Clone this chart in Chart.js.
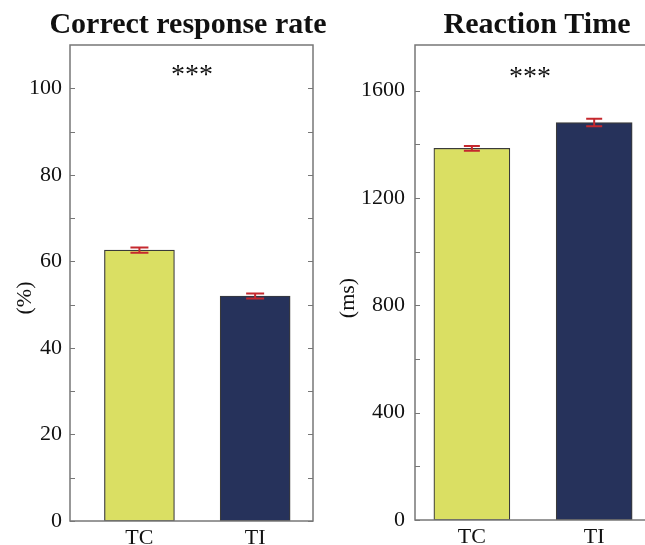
<!DOCTYPE html>
<html>
<head>
<meta charset="utf-8">
<script src="https://cdn.jsdelivr.net/npm/chart.js@4.4.1/dist/chart.umd.min.js"></script>
<style>
html,body{margin:0;padding:0;background:#fff;overflow:hidden;width:645px;height:545px;}
#w1{position:absolute;left:0;top:0;width:335px;height:545px;}
#w2{position:absolute;left:335px;top:0;width:340px;height:545px;}
</style>
</head>
<body>
<div id="w1"><canvas id="c1"></canvas></div>
<div id="w2"><canvas id="c2"></canvas></div>
<script>
// ---- data ----
const categories = ['TC', 'TI'];
const accuracyMean = [62.6, 52.0];
const accuracyErr = [0.6, 0.6];
const rtMean = [1385, 1481];
const rtErr = [9, 14];
const accuracyTickLabels = [0, 20, 40, 60, 80, 100];
const accuracyMinorTicks = [0, 10, 20, 30, 40, 50, 60, 70, 80, 90, 100];
const rtTickLabels = [0, 400, 800, 1200, 1600];
const rtMinorTicks = [0, 200, 400, 600, 800, 1000, 1200, 1400, 1600];
const significance = '***';
const barColors = ['#DADF63', '#26325B'];
const errColor = '#C5282E';
const SERIF = '"Liberation Serif", "Times New Roman", serif';
const TEXT = '#111';

const panelPlugin = {
  id: 'panel',
  afterDatasetsDraw(chart, args, opts) {
    const ctx = chart.ctx, ca = chart.chartArea;
    const xs = chart.scales.x, ys = chart.scales.y;
    // error bars
    ctx.save();
    ctx.strokeStyle = errColor; ctx.lineWidth = 2;
    opts.means.forEach((m, i) => {
      const x = xs.getPixelForValue(i + 1);
      const yt = ys.getPixelForValue(m + opts.errs[i]);
      const yb = ys.getPixelForValue(m - opts.errs[i]);
      const hw = opts.capHalf;
      ctx.beginPath();
      ctx.moveTo(x, yt); ctx.lineTo(x, yb);
      ctx.moveTo(x - hw, yt); ctx.lineTo(x + hw, yt);
      ctx.moveTo(x - hw, yb); ctx.lineTo(x + hw, yb);
      ctx.stroke();
    });
    ctx.restore();
    // box
    ctx.save();
    ctx.strokeStyle = '#777'; ctx.lineWidth = 1.5;
    ctx.strokeRect(ca.left, ca.top, ca.right - ca.left, ca.bottom - ca.top);
    // inward ticks
    ctx.lineWidth = 1;
    ctx.beginPath();
    opts.minor.forEach(v => {
      const y = Math.round(ys.getPixelForValue(v)) + 0.5;
      ctx.moveTo(ca.left, y); ctx.lineTo(ca.left + 5, y);
      ctx.moveTo(ca.right, y); ctx.lineTo(ca.right - 5, y);
    });
    ctx.stroke();
    ctx.restore();
    ctx.save();
    ctx.fillStyle = TEXT;
    // title
    ctx.font = 'bold ' + opts.titleSize + 'px ' + SERIF;
    ctx.textAlign = 'center'; ctx.textBaseline = 'alphabetic';
    ctx.fillText(opts.title, opts.titleX, 33);
    // significance
    ctx.font = '28px ' + SERIF;
    ctx.fillText(significance, opts.sigX, ys.getPixelForValue(opts.sigY));
    // y title
    ctx.translate(opts.yTitleX, opts.yTitleY);
    ctx.rotate(-Math.PI / 2);
    ctx.font = '22px ' + SERIF;
    ctx.textBaseline = 'middle';
    ctx.fillText(opts.yTitle, 0, 0);
    ctx.restore();
  }
};

function makeChart(id, cfg) {
  return new Chart(document.getElementById(id), {
    type: 'bar',
    data: {
      datasets: [{
        data: cfg.means.map((v, i) => ({ x: i + 1, y: v })),
        backgroundColor: barColors,
        borderColor: '#3a3a3a',
        borderWidth: 1.2,
        barThickness: cfg.barW,
        borderSkipped: false
      }]
    },
    options: {
      responsive: true, maintainAspectRatio: false, animation: false,
      layout: { padding: { left: 0, right: cfg.padRight, top: 45, bottom: 0 } },
      plugins: {
        legend: { display: false }, tooltip: { enabled: false }, title: { display: false },
        panel: {
          means: cfg.means, errs: cfg.errs, capHalf: cfg.capHalf, minor: cfg.minor,
          title: cfg.title, titleX: cfg.titleX, titleSize: cfg.titleSize,
          sigX: cfg.sigX, sigY: cfg.sigY, yTitle: cfg.yTitle, yTitleX: cfg.yTitleX, yTitleY: 298
        }
      },
      scales: {
        x: {
          type: 'linear', min: cfg.xmin, max: cfg.xmax, offset: false,
          grid: { display: false, drawTicks: false },
          border: { display: false },
          afterBuildTicks: s => { s.ticks = categories.map((c, i) => ({ value: i + 1 })); },
          afterFit: s => { s.height = cfg.xAxisH; },
          ticks: {
            autoSkip: false, maxRotation: 0, padding: 4, color: TEXT,
            font: { family: SERIF, size: 22 },
            callback: v => categories[Math.round(v) - 1] || ''
          }
        },
        y: {
          min: 0, max: cfg.ymax,
          grid: { display: false, drawTicks: false },
          border: { display: false },
          afterBuildTicks: s => { s.ticks = cfg.labels.map(v => ({ value: v })); },
          afterFit: s => { s.width = cfg.yAxisW; },
          ticks: {
            autoSkip: false, padding: cfg.yPad, color: TEXT,
            font: { family: SERIF, size: 22 },
            callback: v => String(v)
          }
        }
      }
    },
    plugins: [panelPlugin]
  });
}

makeChart('c1', {
  means: accuracyMean, errs: accuracyErr, labels: accuracyTickLabels, minor: accuracyMinorTicks,
  ymax: 110, xmin: 0.4, xmax: 2.5, barW: 70, capHalf: 9, padRight: 22, yAxisW: 70, yPad: 8,
  xAxisH: 24, title: 'Correct response rate', titleX: 188, titleSize: 30,
  sigX: 192, sigY: 101.2, yTitle: '(%)', yTitleX: 25
});
makeChart('c2', {
  means: rtMean, errs: rtErr, labels: rtTickLabels, minor: rtMinorTicks,
  ymax: 1770, xmin: 0.535, xmax: 2.53, barW: 76, capHalf: 8, padRight: 16, yAxisW: 80, yPad: 10,
  xAxisH: 25, title: 'Reaction Time', titleX: 202, titleSize: 30,
  sigX: 195, sigY: 1622, yTitle: '(ms)', yTitleX: 13
});
</script>
</body>
</html>
